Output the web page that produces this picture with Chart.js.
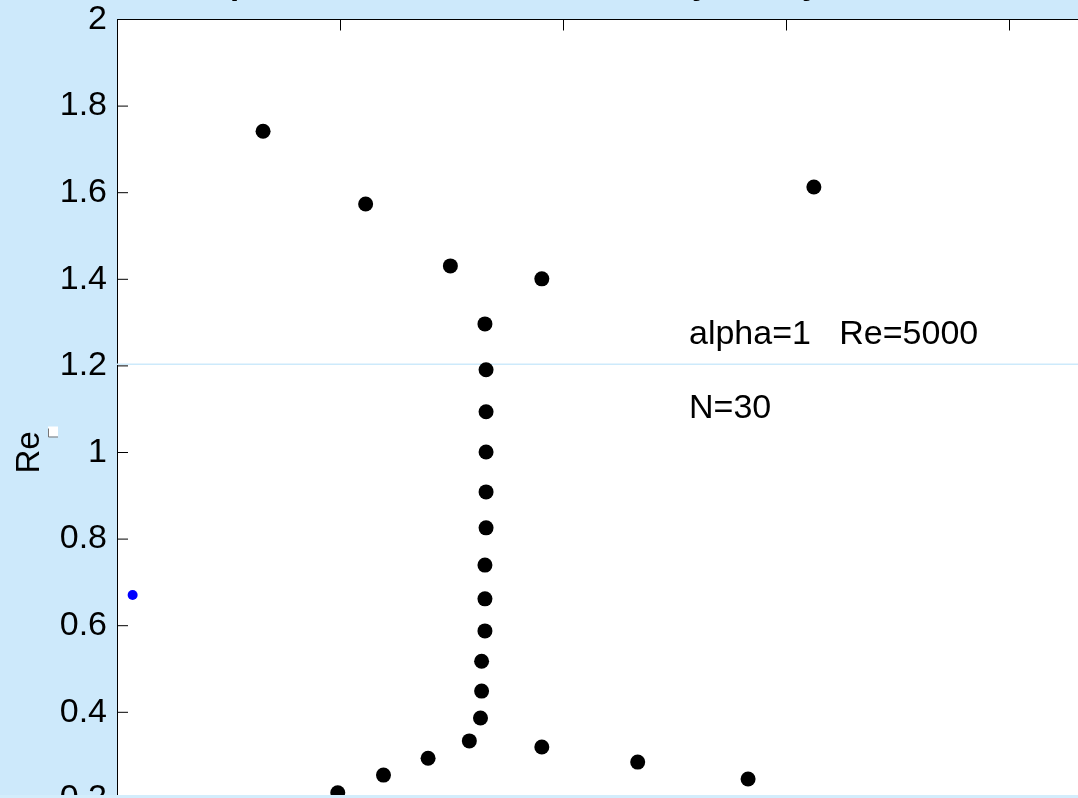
<!DOCTYPE html>
<html lang="en">
<head>
<meta charset="UTF-8">
<title>Orr-Sommerfeld spectrum</title>
<script src="https://cdn.jsdelivr.net/npm/chart.js"></script>
<style>
  html, body { margin: 0; padding: 0; width: 1078px; height: 798px; overflow: hidden; background: #cde9fb; }
  #wrap { position: absolute; left: 0; top: -40px; }
  #strip { position: absolute; left: 0; right: 0; bottom: 0; height: 3px; background: #d3edfc; }
</style>
</head>
<body>
<div id="wrap"><canvas id="spectrum" width="1300" height="1000"></canvas></div>
<div id="strip"></div>
<script>
// eigenvalues
const eigX = [0.131, 0.223, 0.299, 0.381, 0.625, 0.330, 0.331, 0.331, 0.331, 0.331, 0.331, 0.330, 0.330,
              0.330, 0.327, 0.327, 0.326, 0.316, 0.279, 0.239, 0.198, 0.381, 0.467, 0.566, 0.676];
const eigY = [1.742, 1.574, 1.431, 1.401, 1.613, 1.297, 1.191, 1.094, 1.001, 0.909, 0.826, 0.740, 0.662,
              0.588, 0.518, 0.449, 0.387, 0.334, 0.294, 0.255, 0.214, 0.320, 0.285, 0.246, 0.184];
// the single blue point
const markX = [0.014];
const markY = [0.671];
// faint horizontal line
const lineX = [0, 1];
const lineY = [1.204, 1.204];
// text placed in data coordinates
const notes = ["alpha=1   Re=5000", "N=30"];
const noteX = [0.513, 0.513];
const noteY = [1.25, 1.08];

const FONT = '"Liberation Sans", Arial, Helvetica, sans-serif';
Chart.defaults.font.family = FONT;

const toPts = (xs, ys) => xs.map((x, i) => ({ x: x, y: ys[i] }));
// matlab style labels: 2 not 2.0
const tickLabel = v => String(Number(v.toFixed(1)));

const matlabFrame = {
    id: 'matlabFrame',
    beforeDraw(chart) {
        const { ctx, chartArea: a } = chart;
        ctx.save();
        ctx.fillStyle = '#cde9fb';
        ctx.fillRect(0, 0, chart.width, chart.height);
        ctx.fillStyle = '#ffffff';
        ctx.fillRect(a.left, a.top, a.right - a.left, a.bottom - a.top);
        ctx.restore();
    },
    afterDatasetsDraw(chart) {
        const { ctx, chartArea: a, scales } = chart;
        ctx.save();
        // inward tick marks on all four sides
        ctx.strokeStyle = '#000';
        ctx.lineWidth = 1;
        ctx.beginPath();
        scales.x.ticks.forEach((t, i) => {
            const px = Math.round(scales.x.getPixelForTick(i)) + 0.5;
            ctx.moveTo(px, a.top); ctx.lineTo(px, a.top + 11);
            ctx.moveTo(px, a.bottom); ctx.lineTo(px, a.bottom - 11);
        });
        scales.y.ticks.forEach((t, i) => {
            const py = scales.y.getPixelForTick(i);
            ctx.moveTo(a.left, py); ctx.lineTo(a.left + 11, py);
            ctx.moveTo(a.right, py); ctx.lineTo(a.right - 11, py);
        });
        ctx.stroke();

        // annotations
        ctx.fillStyle = '#000';
        ctx.font = '34px ' + FONT;
        ctx.textAlign = 'left';
        ctx.textBaseline = 'alphabetic';
        notes.forEach((s, i) => {
            ctx.fillText(s, scales.x.getPixelForValue(noteX[i]), scales.y.getPixelForValue(noteY[i]));
        });

        // empty subscript box next to the y label
        const by = (a.top + a.bottom) / 2 - 26;
        ctx.fillStyle = '#fff';
        ctx.fillRect(48, by, 10, 10);
        ctx.strokeStyle = '#777';
        ctx.beginPath();
        ctx.moveTo(48.5, by + 2); ctx.lineTo(48.5, by + 10.5); ctx.lineTo(58, by + 10.5);
        ctx.stroke();
        ctx.restore();
    }
};

const tickFont = { size: 34 };

new Chart(document.getElementById('spectrum'), {
    type: 'scatter',
    data: {
        datasets: [
            {
                data: toPts(eigX, eigY),
                backgroundColor: '#000',
                borderWidth: 0,
                pointRadius: 7.5,
                order: 1
            },
            {
                data: toPts(markX, markY),
                backgroundColor: '#0000ff',
                borderWidth: 0,
                pointRadius: 5,
                order: 2
            },
            {
                type: 'line',
                data: toPts(lineX, lineY),
                borderColor: '#cdeafb',
                borderWidth: 1.5,
                pointRadius: 0,
                order: 3
            }
        ]
    },
    plugins: [matlabFrame],
    options: {
        responsive: false,
        animation: false,
        layout: { padding: { left: 0, top: 0, right: 68, bottom: 14.5 } },
        plugins: {
            legend: { display: false },
            tooltip: { enabled: false },
            title: {
                display: true,
                text: 'Spectrum of Orr-Sommerfeld by Chebyshev method',
                color: '#000',
                font: { size: 33, weight: 'bold' },
                padding: { top: 5, bottom: 14.9 }
            }
        },
        scales: {
            x: {
                type: 'linear',
                position: 'bottom',
                min: 0, max: 1,
                ticks: { stepSize: 0.2, color: '#000', font: tickFont, callback: tickLabel },
                grid: { drawOnChartArea: false, drawTicks: false },
                border: { color: '#000', width: 1 },
                afterFit(s) { s.height = 60; }
            },
            xTop: {
                type: 'linear',
                position: 'top',
                min: 0, max: 1,
                ticks: { display: false },
                grid: { drawOnChartArea: false, drawTicks: false },
                border: { color: '#000', width: 1 },
                afterFit(s) { s.height = 0; }
            },
            y: {
                type: 'linear',
                position: 'left',
                min: 0, max: 2,
                ticks: { stepSize: 0.2, padding: 10, color: '#000', font: tickFont, callback: tickLabel },
                title: { display: true, text: 'Re', color: '#000', font: { size: 33 }, padding: { top: 10 } },
                grid: { drawOnChartArea: false, drawTicks: false },
                border: { color: '#000', width: 1 },
                afterFit(s) { s.width = 117; }
            },
            yRight: {
                type: 'linear',
                position: 'right',
                min: 0, max: 2,
                ticks: { display: false },
                grid: { drawOnChartArea: false, drawTicks: false },
                border: { color: '#000', width: 1 },
                afterFit(s) { s.width = 0; }
            }
        }
    }
});
</script>
</body>
</html>
